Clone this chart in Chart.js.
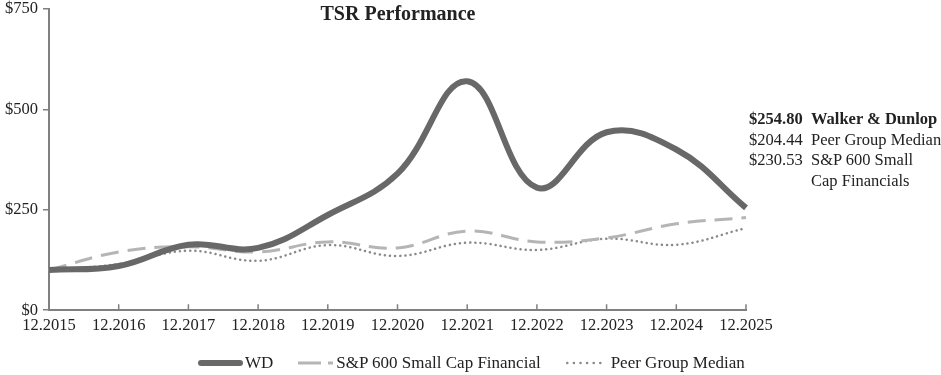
<!DOCTYPE html>
<html>
<head>
<meta charset="utf-8">
<script src="https://cdn.jsdelivr.net/npm/chart.js@4"></script>
<style>
    body { margin: 0; background: #fff; font-family: "Liberation Serif", serif; }
    #wrap { position: relative; width: 941px; height: 375px; overflow: hidden; }
    #tsrChart { position: absolute; left: 0; top: -6px; }
    #title { position: absolute; left: 0; width: 796px; top: 2px; text-align: center; font-weight: bold; font-size: 20px; color: #222; }
    .note { position: absolute; font-size: 16.5px; line-height: 20.7px; color: #222; white-space: nowrap; }
    #legend { position: absolute; left: 198px; top: 353px; display: flex; align-items: center; font-size: 17px; color: #222; }
    #legend .item { display: flex; align-items: center; margin-right: 25px; }
</style>
</head>
<body>
<div id="wrap">
    <canvas id="tsrChart" width="941" height="381"></canvas>
    <div id="title">TSR Performance</div>
    <div class="note" style="left:749px; top:109px;"><b>$254.80</b><br>$204.44<br>$230.53</div>
    <div class="note" style="left:811px; top:109px;"><b>Walker &amp; Dunlop</b><br>Peer Group Median<br>S&amp;P 600 Small<br>Cap Financials</div>
    <div id="legend"></div>
</div>
<script>
// Dữ liệu
const years = ['12.2015', '12.2016', '12.2017', '12.2018', '12.2019', '12.2020',
    '12.2021', '12.2022', '12.2023', '12.2024', '12.2025'];
const wdValues = [100, 110, 163, 155, 237, 340, 570, 305, 443, 400, 254.80];
const spValues = [100, 145, 158, 145, 170, 155, 197, 170, 180, 215, 230.53];
const peerValues = [100, 115, 148, 123, 162, 135, 168, 150, 178, 163, 204.44];
const yTicks = [0, 250, 500, 750];

const axisColor = '#808080';
const textColor = '#222';
const tickFont = { family: 'Liberation Serif', size: 16.5 };

// Kiểu chú thích (độ dài đoạn mẫu, nét đứt, khoảng cách tới chữ)
const legendSwatches = [
    { w: 45, dash: '', cap: 'round', gap: 2 },
    { w: 35, dash: '23 7 5', cap: 'butt', gap: 3 },
    { w: 40, dash: '0.1 6.5', cap: 'round', gap: 5 }
];

// Vạch chia trục x hướng vào trong
const innerTicks = {
    id: 'innerTicks',
    afterDraw(chart) {
        const x = chart.scales.x;
        const ctx = chart.ctx;
        ctx.save();
        ctx.strokeStyle = axisColor;
        ctx.lineWidth = 1.5;
        ctx.beginPath();
        x.ticks.forEach((t, i) => {
            const px = x.getPixelForTick(i);
            ctx.moveTo(px, x.top);
            ctx.lineTo(px, x.top - 6);
        });
        ctx.stroke();
        ctx.restore();
    }
};

const ctx = document.getElementById('tsrChart').getContext('2d');
const chart = new Chart(ctx, {
    type: 'line',
    data: {
        labels: years,
        datasets: [
            {
                label: 'WD',
                data: wdValues,
                borderColor: '#686868',
                borderWidth: 6,
                tension: 0.4,
                pointRadius: 0,
                order: 1
            },
            {
                label: 'S&P 600 Small Cap Financial',
                data: spValues,
                borderColor: '#b5b5b5',
                borderWidth: 3,
                borderDash: [18, 9],
                tension: 0.4,
                pointRadius: 0,
                order: 2
            },
            {
                label: 'Peer Group Median',
                data: peerValues,
                borderColor: '#8a8a8a',
                borderWidth: 2.5,
                borderDash: [0.1, 5],
                borderCapStyle: 'round',
                tension: 0.4,
                pointRadius: 0,
                order: 3
            }
        ]
    },
    options: {
        responsive: false,
        animation: false,
        layout: { padding: { left: 0, right: 195, top: 0, bottom: 33 } },
        scales: {
            x: {
                offset: false,
                grid: { display: true, drawOnChartArea: false, drawTicks: false },
                border: { color: axisColor, width: 2 },
                ticks: {
                    color: textColor,
                    padding: 6,
                    maxRotation: 0,
                    autoSkip: false,
                    font: tickFont
                }
            },
            y: {
                min: 0,
                max: 750,
                afterBuildTicks: (axis) => { axis.ticks = yTicks.map(v => ({ value: v })); },
                grid: { drawOnChartArea: false, drawTicks: true, tickLength: 6, color: axisColor, lineWidth: 1.5 },
                border: { color: axisColor, width: 2 },
                ticks: {
                    color: textColor,
                    padding: 5,
                    font: tickFont,
                    callback: (v) => '$' + v
                }
            }
        },
        plugins: {
            title: { display: false },
            tooltip: { enabled: false },
            legend: { display: false }
        }
    },
    plugins: [innerTicks]
});

// Chú thích bên dưới, lấy tên và màu từ các dataset
const legendDiv = document.getElementById('legend');
chart.data.datasets.forEach((ds, i) => {
    const sw = legendSwatches[i];
    const item = document.createElement('div');
    item.className = 'item';
    const inset = sw.cap === 'round' ? ds.borderWidth / 2 : 0;
    item.innerHTML =
        `<svg width="${sw.w}" height="10" style="margin-right:${sw.gap}px"><line x1="${inset}" y1="5" x2="${sw.w - inset}" y2="5" ` +
        `stroke="${ds.borderColor}" stroke-width="${ds.borderWidth}" stroke-linecap="${sw.cap}" stroke-dasharray="${sw.dash}"/></svg>`;
    const span = document.createElement('span');
    span.textContent = ds.label;
    item.appendChild(span);
    legendDiv.appendChild(item);
});
</script>
</body>
</html>
